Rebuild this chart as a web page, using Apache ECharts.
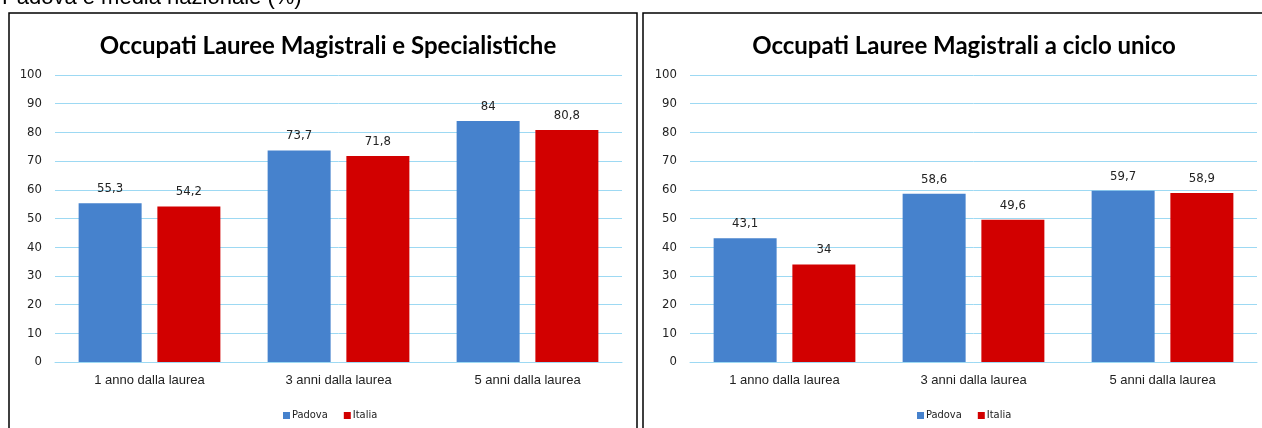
<!DOCTYPE html>
<html>
<head>
<meta charset="utf-8">
<script src="https://cdn.jsdelivr.net/npm/echarts@6/dist/echarts.min.js"></script>
<style>
  html, body { margin: 0; padding: 0; background: #fff; }
  #chart { width: 1262px; height: 428px; }
</style>
</head>
<body>
<div id="chart"></div>
<script>
// dati
const categories = ['1 anno dalla laurea', '3 anni dalla laurea', '5 anni dalla laurea']
const seriesNames = ['Padova', 'Italia']
const magSpecPadova = [55.3, 73.7, 84]
const magSpecItalia = [54.2, 71.8, 80.8]
const cicloUnicoPadova = [43.1, 58.6, 59.7]
const cicloUnicoItalia = [34, 49.6, 58.9]
const titles = ['Occupati Lauree Magistrali e Specialistiche', 'Occupati Lauree Magistrali a ciclo unico']
const yTicks = [0, 10, 20, 30, 40, 50, 60, 70, 80, 90, 100]

const blue = '#4682cd'
const red = '#d20000'
const gridColor = '#9dd9f3'
const narrow = '"Liberation Sans Narrow", "DejaVu Sans Condensed", Arial, sans-serif'
const sans = '"Liberation Sans", Arial, sans-serif'

const chart = echarts.init(document.getElementById('chart'))

function yAxis(idx) {
  return {
    type: 'value',
    gridIndex: idx,
    min: yTicks[0],
    max: yTicks[yTicks.length - 1],
    interval: 10,
    axisLine: { show: false },
    axisTick: { show: false },
    axisLabel: { color: '#222', fontSize: 13, fontFamily: narrow, margin: 13 },
    splitLine: { show: true, lineStyle: { color: gridColor, width: 1 } },
  }
}

function xAxis(idx) {
  return {
    type: 'category',
    gridIndex: idx,
    data: categories,
    axisLine: { show: true, lineStyle: { color: gridColor } },
    axisTick: { show: false },
    axisLabel: { color: '#222', fontSize: 13, fontFamily: sans, margin: 12 },
  }
}

function bar(name, data, color, idx) {
  return {
    name: name,
    type: 'bar',
    xAxisIndex: idx,
    yAxisIndex: idx,
    data: data,
    barWidth: 63,
    barGap: '25%',
    itemStyle: { color: color },
    label: {
      show: true,
      position: 'top',
      distance: 8,
      color: '#222',
      fontSize: 13,
      fontFamily: narrow,
      formatter: (p) => String(p.value).replace('.', ','),
    },
  }
}

chart.setOption({
  animation: false,
  backgroundColor: '#fff',
  title: [
    {
      text: titles[0],
      left: 323, top: 29, textAlign: 'center',
      textStyle: { fontFamily: 'Lato, "Open Sans", sans-serif', fontWeight: 'bold', fontSize: 24, color: '#000' },
    },
    {
      text: titles[1],
      left: 959, top: 29, textAlign: 'center',
      textStyle: { fontFamily: 'Lato, "Open Sans", sans-serif', fontWeight: 'bold', fontSize: 24, color: '#000' },
    },
  ],
  legend: [
    {
      data: seriesNames, left: 278, top: 405, itemWidth: 7, itemHeight: 7, itemGap: 16, icon: 'rect',
      textStyle: { fontSize: 11, fontFamily: narrow, color: '#222', padding: [0, 0, 0, -3] },
    },
    {
      data: seriesNames, left: 912, top: 405, itemWidth: 7, itemHeight: 7, itemGap: 16, icon: 'rect',
      textStyle: { fontSize: 11, fontFamily: narrow, color: '#222', padding: [0, 0, 0, -3] },
    },
  ],
  grid: [
    { left: 55, right: 640, top: 75, bottom: 66 },
    { left: 690, right: 5, top: 75, bottom: 66 },
  ],
  xAxis: [xAxis(0), xAxis(1)],
  yAxis: [yAxis(0), yAxis(1)],
  series: [
    bar(seriesNames[0], magSpecPadova, blue, 0),
    bar(seriesNames[1], magSpecItalia, red, 0),
    bar(seriesNames[0], cicloUnicoPadova, blue, 1),
    bar(seriesNames[1], cicloUnicoItalia, red, 1),
  ],
  graphic: [
    {
      type: 'text', left: 2, top: -13,
      style: { text: 'Padova e media nazionale (%)', font: '22px "Liberation Sans", Arial, sans-serif', fill: '#000' },
    },
    {
      type: 'rect', shape: { x: 9, y: 13, width: 628, height: 430 },
      style: { fill: 'none', stroke: '#000', lineWidth: 1.5 },
    },
    {
      type: 'rect', shape: { x: 643, y: 13, width: 640, height: 430 },
      style: { fill: 'none', stroke: '#000', lineWidth: 1.5 },
    },
  ],
})
</script>
</body>
</html>
